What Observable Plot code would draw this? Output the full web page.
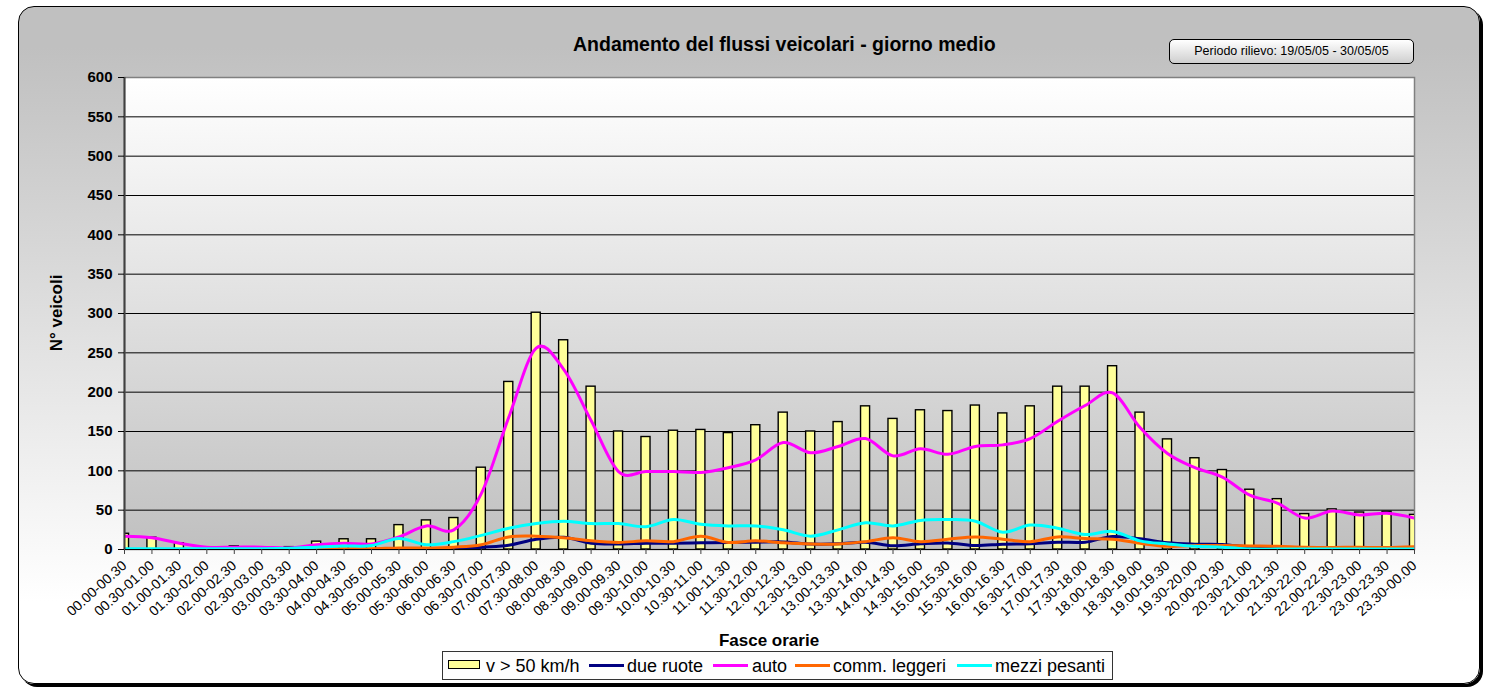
<!DOCTYPE html>
<html><head><meta charset="utf-8">
<script src="https://cdn.jsdelivr.net/npm/d3@7"></script>
<script src="https://cdn.jsdelivr.net/npm/@observablehq/plot@0.6"></script>
<style>
html,body{margin:0;padding:0;background:#fff;}
#wrap{position:relative;width:1487px;height:689px;overflow:hidden;font-family:"Liberation Sans",Arial,sans-serif;color:#000;}
#frame{position:absolute;left:18px;top:6px;width:1462px;height:678px;box-sizing:border-box;border:1px solid #000;border-radius:16px;background:linear-gradient(to bottom,#c0c0c0 0%,#c0c0c0 6%,#ffffff 88%,#ffffff 100%);box-shadow:3px 3px 0 #000;}
#plotbg{position:absolute;left:124px;top:77px;width:1290px;height:472px;background:linear-gradient(to bottom,#ffffff,#c0c0c0);}
#chart{position:absolute;left:0;top:0;}
.t{position:absolute;white-space:nowrap;}
#title{left:573px;top:35px;width:420px;text-align:center;font-size:19.5px;font-weight:bold;line-height:19px;}
#periodo{left:1169px;top:39px;width:245px;height:25px;box-sizing:border-box;border:1px solid #000;border-radius:5px;background:linear-gradient(to bottom,#ffffff,#cfcfcf);font-size:12.5px;line-height:23px;text-align:center;}
#ylab{left:56px;top:313px;font-size:17px;font-weight:bold;line-height:17px;transform:translate(-50%,-50%) rotate(-90deg);}
#xlab{left:669px;top:632px;width:200px;text-align:center;font-size:17px;font-weight:bold;line-height:17px;}
#legend{position:absolute;left:442px;top:651px;width:671px;height:29px;box-sizing:border-box;border:1px solid #333;background:#fdfdfd;}
.li{position:absolute;top:652px;height:28px;line-height:28px;font-size:18px;white-space:nowrap;}
.sw{position:absolute;}
</style>
</head><body>
<div id="wrap">
  <div id="frame"></div>
  <div id="plotbg"></div>
  <div id="chartholder"></div>
  <div class="t" id="title">Andamento del flussi veicolari - giorno medio</div>
  <div class="t" id="periodo">Periodo rilievo: 19/05/05 - 30/05/05</div>
  <div class="t" id="ylab">N° veicoli</div>
  <div class="t" id="xlab">Fasce orarie</div>
  <div id="legend"></div>
  <div id="legenditems"></div>
</div>
<script>
// ---- data ----
const slots = ["00.00-00.30","00.30-01.00","01.00-01.30","01.30-02.00","02.00-02.30","02.30-03.00",
"03.00-03.30","03.30-04.00","04.00-04.30","04.30-05.00","05.00-05.30","05.30-06.00",
"06.00-06.30","06.30-07.00","07.00-07.30","07.30-08.00","08.00-08.30","08.30-09.00",
"09.00-09.30","09.30-10.00","10.00-10.30","10.30-11.00","11.00-11.30","11.30-12.00",
"12.00-12.30","12.30-13.00","13.00-13.30","13.30-14.00","14.00-14.30","14.30-15.00",
"15.00-15.30","15.30-16.00","16.00-16.30","16.30-17.00","17.00-17.30","17.30-18.00",
"18.00-18.30","18.30-19.00","19.00-19.30","19.30-20.00","20.00-20.30","20.30-21.00",
"21.00-21.30","21.30-22.00","22.00-22.30","22.30-23.00","23.00-23.30","23.30-00.00"];

const v50 = [20,15,8,2,4,2,3,10,13,13,31,37,40,104,213,301,266,207,150,143,151,152,148,158,
174,150,162,182,166,177,176,183,173,182,207,207,233,174,140,116,101,76,64,45,51,47,48,44];

const dueRuote = [0,0,0,0,0,0,0,0,0,0,0,0,0.5,3,5.5,13,15.5,8,7,8,8,8.5,9,9.3,
9.6,7,7.2,9.3,4.7,7.2,8.3,5,6.8,7.4,9.3,9.3,16.5,13.6,8.5,6.8,6.4,3,1.7,0.5,0.5,0.5,0.5,0.5];

const auto = [17,15,8,3,3,3,2,6,8,7,16,30,25,71,168,256,229,164,99,99,99,98,104,114,
136,123,131,141,119,128,121,131,133,141,163,183,199,155,122,104,92,69,59,40,49,44,46,40];

const commLeggeri = [0,0,0,0,0,0,0.5,1,1,1,2,2,3,6,16,17,15,11,9,11,10,17,9,11,
8.5,7,7,10,15,10,13,16,13,10,16,14,13,8,4,5,5,4.5,4,3,2.7,3,2.4,3.4];

const mezziPesanti = [1,1,1,1,1,1,1.5,3,4.5,5,14,6,10,18,27,33,36,33,33,29,38,32,30,30,
25,17,25,34,30,37,38,36,22,31,27,19,23,11,7,4,3,0.5,0.5,0.5,0.5,0.5,0.5,0.5];

const seriesNames = ["due ruote","auto","comm. leggeri","mezzi pesanti"];
const seriesColors = ["#000080","#ff00ff","#ff6600","#00ffff"];
const barName = "v > 50 km/h";
const yTicks = [0,50,100,150,200,250,300,350,400,450,500,550,600];

// ---- tables ----
const barRows = v50.map((v, i) => ({i, v}));
const seriesValues = [dueRuote, auto, commLeggeri, mezziPesanti];
const lineRows = seriesNames.flatMap((s, k) => seriesValues[k].map((v, i) => ({i, v, s})));
const hw = 0.165;

const chart = Plot.plot({
  width: 1487,
  height: 689,
  marginLeft: 124,
  marginRight: 73,
  marginTop: 77,
  marginBottom: 140,
  style: {background: "transparent", fontFamily: "Liberation Sans, Arial, sans-serif", color: "#000", overflow: "visible"},
  x: {type: "linear", domain: [0, slots.length - 1], axis: null},
  y: {domain: [0, 600], axis: null},
  color: {domain: seriesNames, range: seriesColors},
  marks: [
    Plot.ruleY(yTicks.slice(1, -1), {stroke: "#000", strokeWidth: 1}),
    Plot.frame({stroke: "#808080", strokeWidth: 1.5}),
    Plot.rectY(barRows, {x1: d => d.i - hw, x2: d => d.i + hw, y: "v", fill: "#ffff99", stroke: "#000", strokeWidth: 1.4, clip: true}),
    Plot.line(lineRows, {x: "i", y: "v", z: "s", stroke: "s", strokeWidth: 3, curve: "cardinal", clip: true}),
    Plot.ruleX([0], {stroke: "#404040", strokeWidth: 2}),
    Plot.ruleY([0], {stroke: "#000", strokeWidth: 1}),
    Plot.axisY({ticks: yTicks, tickSize: 6, tickPadding: 6, fontSize: 15, fontWeight: "bold", label: null, tickFormat: d => String(d)}),
    Plot.axisX({ticks: d3.range(slots.length), tickFormat: i => slots[i], tickRotate: -42, tickSize: 5, tickPadding: 9, fontSize: 14, label: null, stroke: "#404040"})
  ]
});
document.getElementById("chartholder").appendChild(chart);
chart.id = "chart";
chart.style.position = "absolute";
chart.style.left = "0px";
chart.style.top = "0px";

// ---- legend ----
const li = document.getElementById("legenditems");
function add(html) { li.insertAdjacentHTML("beforeend", html); }
add(`<div class="sw" style="left:448px;top:660px;width:32px;height:9px;box-sizing:border-box;border:1.5px solid #000;background:#ffff99;"></div>`);
add(`<div class="li" style="left:486px;">${barName}</div>`);
const legendPos = [[589, 627], [713, 752], [795, 833], [957, 995]];
seriesNames.forEach((s, k) => {
  const [lx, tx] = legendPos[k];
  add(`<div class="sw" style="left:${lx}px;top:664px;width:35px;height:3px;background:${seriesColors[k]};"></div>`);
  add(`<div class="li" style="left:${tx}px;">${s}</div>`);
});
</script>
</body></html>
